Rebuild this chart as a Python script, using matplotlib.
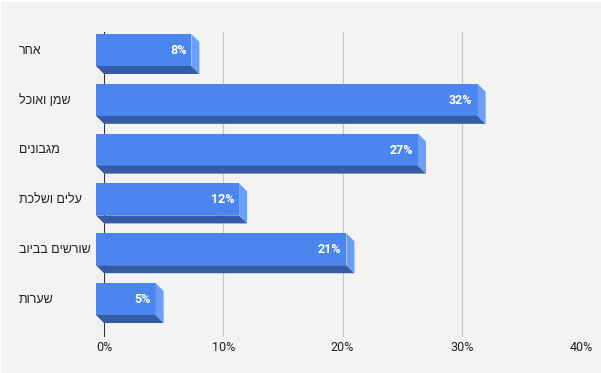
import matplotlib
matplotlib.use("Agg")
import matplotlib.pyplot as plt
from matplotlib.patches import Polygon, Rectangle

labels = ["אחר", "שמן ואוכל", "מגבונים", "עלים ושלכת", "שורשים בביוב", "שערות"]
values = [8, 32, 27, 12, 21, 5]
ticks = [0, 10, 20, 30, 40]

W, H = 601, 373
plt.rcParams['font.family'] = ['Roboto', 'DejaVu Sans']

fig = plt.figure(figsize=(W / 100, H / 100), dpi=100, facecolor="#f3f3f3")
# thin white edge along top and left of the picture
fig.add_artist(Rectangle((0, 1 - 2 / H), 1, 2 / H, transform=fig.transFigure, color="white", lw=0))
fig.add_artist(Rectangle((0, 0), 1 / W, 1, transform=fig.transFigure, color="white", lw=0))

left, right, top, bottom = 104, 581, 32, 337
ax = fig.add_axes([left / W, 1 - bottom / H, (right - left) / W, (bottom - top) / H])
ax.set_facecolor("none")
ax.set_xlim(0, 40)
ax.set_ylim(5.602, -0.522)
for s in ax.spines.values():
    s.set_visible(False)

dx = 8 / ((right - left) / 40)
dy = 8 / 49.8
h = 32 / 49.8

for t in ticks:
    ax.plot([t, t], [-0.522, 5.602], color="#333333" if t == 0 else "#c4c4c4", lw=0.8, zorder=1)

# side wall next to the zero line
ax.add_patch(Polygon([(-dx - 0.05, -0.522 - dy + 0.16), (0, -0.522), (0, 5.602), (-dx - 0.05, 5.602 - dy)],
                     closed=True, color="#f0f0f0", lw=0, zorder=0, clip_on=False))

for i, v in enumerate(values):
    y0 = i - h / 2 - dy
    y1 = i + h / 2 - dy
    x1 = v - dx
    ax.barh(y0 + h / 2, v, height=h, left=-dx, color="#4a86ee", lw=0, zorder=3, clip_on=False)
    ax.add_patch(Polygon([(-dx, y1), (x1, y1), (v, y1 + dy), (0, y1 + dy)], closed=True, color="#345ca6", lw=0, zorder=3, clip_on=False))
    ax.add_patch(Polygon([(x1, y0), (v, y0 + dy), (v, y1 + dy), (x1, y1)], closed=True, color="#6d9ef3", lw=0, zorder=3))
    ax.text(x1 - 5 / 11.925, y0 + h / 2 + 0.01, f"{v}%", color="white", fontsize=9, fontweight="bold",
            ha="right", va="center", zorder=4)

ax.set_xticks(ticks)
ax.set_xticklabels([f"{t}%" for t in ticks], fontsize=9, color="#222222")
ax.tick_params(axis="x", length=0, pad=3)
ax.set_yticks(range(len(labels)))
ax.set_yticklabels([])
ax.tick_params(axis="y", length=0)

for i, lab in enumerate(labels):
    # matplotlib has no bidi, so the Hebrew is reversed for display
    ax.text(-7.14, i - dy + 0.015, lab[::-1], fontsize=9, color="#222222", ha="left", va="center",
            family=['Liberation Sans', 'DejaVu Sans'])

fig.savefig("out.png", dpi=100, facecolor=fig.get_facecolor())
